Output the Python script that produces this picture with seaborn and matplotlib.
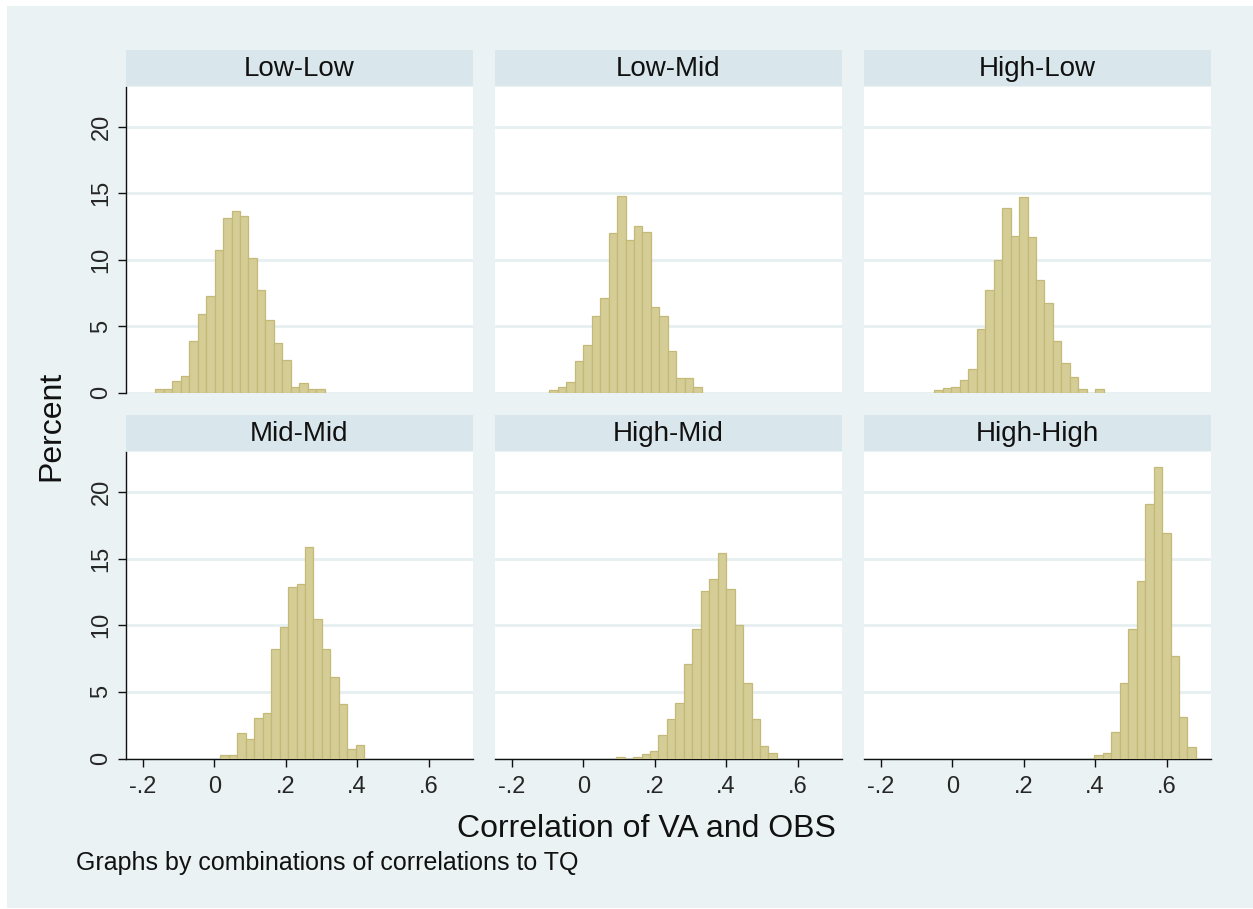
import numpy as np
import pandas as pd
import matplotlib
matplotlib.use("Agg")
import matplotlib.pyplot as plt
from matplotlib.patches import Rectangle
import seaborn as sns

# ---------------- data ----------------
panels = ["Low-Low", "Low-Mid", "High-Low", "Mid-Mid", "High-Mid", "High-High"]
bin_width = 0.0237
bin_start = [-0.165, -0.095, -0.05, 0.017, 0.092, 0.398]

pct_low_low = [0.3, 0.3, 0.85, 1.25, 3.9, 5.9, 7.25, 10.7, 13.1, 13.7, 13.3, 10.1,
               7.7, 5.45, 3.7, 2.45, 0.4, 0.7, 0.3, 0.3]
pct_low_mid = [0.18, 0.45, 0.8, 2.4, 3.6, 5.75, 7.1, 12.0, 14.8, 11.5, 12.5, 12.1,
               6.4, 5.75, 3.15, 1.1, 1.1, 0.45]
pct_high_low = [0.18, 0.35, 0.45, 0.95, 1.8, 4.75, 7.7, 10.0, 13.9, 11.75, 14.7, 11.7,
                8.5, 6.75, 3.9, 2.25, 1.2, 0.25, 0.0, 0.25]
pct_mid_mid = [0.25, 0.25, 1.9, 1.45, 3.05, 3.45, 8.25, 9.9, 12.9, 13.1, 15.9, 10.45,
               8.25, 6.1, 4.1, 0.75, 1.05]
pct_high_mid = [0.12, 0.0, 0.12, 0.35, 0.55, 1.75, 2.95, 4.2, 7.1, 9.7, 12.6, 13.5,
                15.4, 12.75, 10.05, 5.7, 2.95, 0.95, 0.45]
pct_high_high = [0.28, 0.42, 2.0, 5.7, 9.7, 13.3, 19.1, 21.9, 16.9, 7.7, 3.1, 0.9]

pcts = [pct_low_low, pct_low_mid, pct_high_low, pct_mid_mid, pct_high_mid, pct_high_high]

x_ticks = [-0.2, 0.0, 0.2, 0.4, 0.6]
x_ticklabels = ["-.2", "0", ".2", ".4", ".6"]
y_ticks = [0, 5, 10, 15, 20]
y_ticklabels = ["0", "5", "10", "15", "20"]

x_title = "Correlation of VA and OBS"
y_title = "Percent"
note = "Graphs by combinations of correlations to TQ"

# ---------------- style ----------------
sns.set_style("white")
plt.rcParams["font.family"] = ["Liberation Sans", "DejaVu Sans"]

W, H = 1253, 909
BG = "#EAF2F3"
STRIP = "#D9E6EB"
GRID = "#E6EFF1"
FILL = "#D5CD96"
EDGE = "#C4B977"

fig = plt.figure(figsize=(W / 100, H / 100), dpi=100)
fig.patch.set_facecolor("white")
fig.patches.append(Rectangle((7 / W, 1 - 908 / H), (W - 7) / W, (908 - 6) / H,
                             transform=fig.transFigure, facecolor=BG,
                             edgecolor="none", zorder=-10))

col_left = [126, 495, 864]
pw = 347
row_top = [87, 452]
row_bot = [392.5, 758.5]
strip_top = [50, 415]
strip_h = 36

for i, name in enumerate(panels):
    r, c = divmod(i, 3)
    left = col_left[c]
    ax = fig.add_axes([left / W, 1 - row_bot[r] / H, pw / W, (row_bot[r] - row_top[r]) / H])
    ax.set_facecolor("white")

    n = len(pcts[i])
    edges = [bin_start[i] + k * bin_width for k in range(n + 1)]
    centers = [bin_start[i] + (k + 0.5) * bin_width for k in range(n)]
    df = pd.DataFrame({"x": centers, "pct": pcts[i]})
    sns.histplot(data=df, x="x", weights="pct", bins=edges, stat="count",
                 color=FILL, edgecolor=EDGE, linewidth=0.9, alpha=1.0, ax=ax, zorder=3)

    ax.set_xlim(-0.2473, 0.7246)
    ax.set_ylim(0, 23)
    ax.set_xlabel("")
    ax.set_ylabel("")
    ax.set_yticks(y_ticks)
    ax.set_xticks(x_ticks)
    ax.yaxis.grid(True, color=GRID, linewidth=2.0)
    ax.xaxis.grid(False)
    ax.set_axisbelow(True)

    for s in ["top", "right"]:
        ax.spines[s].set_visible(False)
    ax.spines["left"].set_visible(c == 0)
    ax.spines["bottom"].set_visible(r == 1)
    for s in ["left", "bottom"]:
        ax.spines[s].set_color("#111111")
        ax.spines[s].set_linewidth(1.0)

    if c == 0:
        ax.set_yticklabels(y_ticklabels)
        ax.tick_params(axis="y", which="major", length=5.8, width=1.0, color="#111111",
                       direction="out", labelsize=17, pad=4, labelrotation=90, left=True)
        for lab in ax.get_yticklabels():
            lab.set_va("center")
    else:
        ax.tick_params(axis="y", length=0, labelleft=False)

    if r == 1:
        ax.set_xticklabels(x_ticklabels)
        ax.tick_params(axis="x", which="major", length=5.8, width=1.0, color="#111111",
                       direction="out", labelsize=17, pad=7, bottom=True)
    else:
        ax.tick_params(axis="x", length=0, labelbottom=False)

    # strip header
    fig.patches.append(Rectangle((left / W, 1 - (strip_top[r] + strip_h) / H), pw / W, strip_h / H,
                                 transform=fig.transFigure, facecolor=STRIP,
                                 edgecolor="none", zorder=-5))
    fig.text((left + pw / 2) / W, 1 - (strip_top[r] + 26) / H, name,
             ha="center", va="baseline", fontsize=20, color="#111111")

fig.text(646 / W, 1 - 837 / H, x_title, ha="center", va="baseline", fontsize=23, color="#111111")
fig.text(51 / W, 1 - 426 / H, y_title, ha="center", va="center", rotation=90,
         fontsize=23, color="#111111")
fig.text(76 / W, 1 - 870 / H, note, ha="left", va="baseline", fontsize=18, color="#111111")

fig.savefig("out.png", dpi=100, facecolor=fig.get_facecolor())
